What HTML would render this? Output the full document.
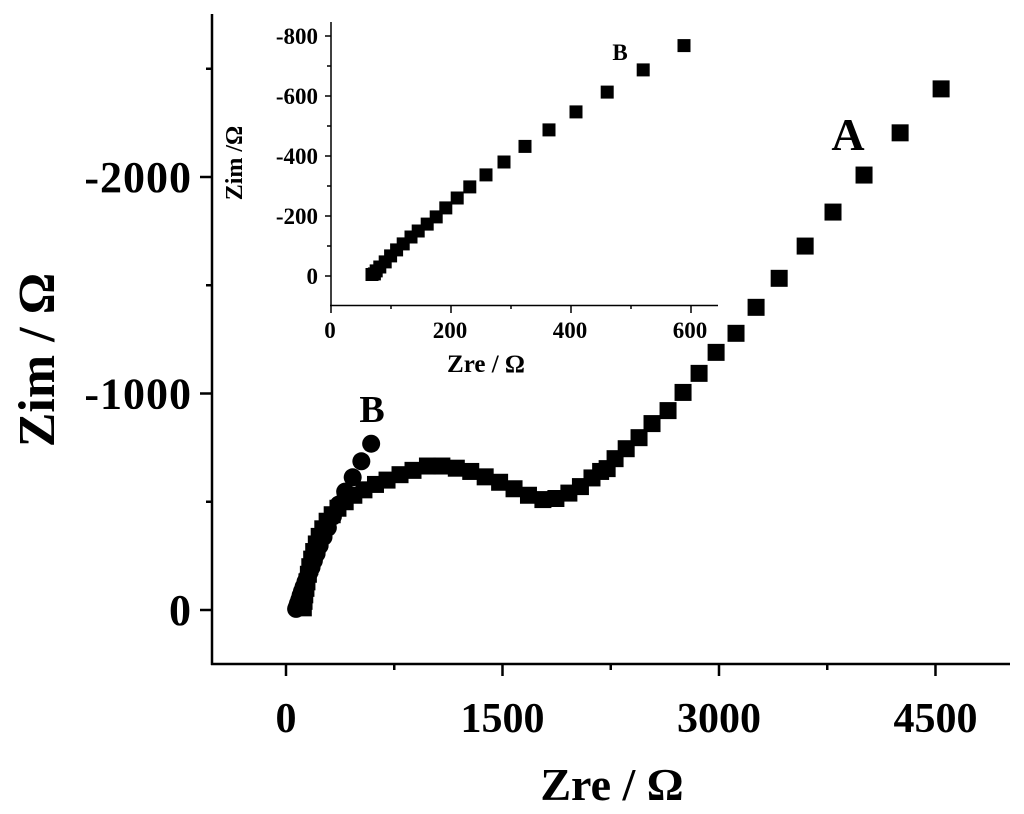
<!DOCTYPE html>
<html><head><meta charset="utf-8"><style>
html,body{margin:0;padding:0;background:#fff;}
svg{display:block;font-family:"Liberation Serif",serif;font-weight:bold;}
</style></head><body>
<svg id="chart" width="1024" height="814" viewBox="0 0 1024 814"></svg>
<script>
// Main chart data (Ω); Zim negative values plotted upward
const aZre = [120,125,130,138,145,155,165,178,192,210,230,255,285,320,360,410,470,540,620,700,790,880,980,1080,1180,1280,1380,1480,1580,1680,1780,1870,1960,2040,2120,2180,2225,2280,2357,2446,2536,2647,2751,2862,2980,3118,3257,3417,3597,3790,4005,4255,4539];
const aZim = [-10,-40,-70,-100,-130,-165,-200,-235,-270,-305,-340,-375,-410,-440,-470,-500,-530,-555,-580,-600,-625,-645,-665,-665,-655,-640,-615,-590,-560,-530,-510,-515,-540,-570,-610,-640,-653,-699,-745,-796,-861,-921,-1005,-1093,-1190,-1278,-1398,-1532,-1681,-1838,-2009,-2204,-2407];
const bZre = [70,74,77,83,92,101,111,122,135,147,162,177,193,212,233,260,290,325,365,410,462,522,590];
const bZim = [-5,-7,-17,-30,-47,-67,-87,-107,-130,-150,-173,-197,-227,-260,-297,-337,-380,-432,-487,-547,-613,-687,-768];
const mainXTicks = [0,1500,3000,4500];
const mainXMinor = [750,2250,3750];
const mainYTicks = [0,-1000,-2000];
const mainYMinor = [-500,-1500,-2500];
const inXTicks = [0,200,400,600];
const inXMinor = [100,300,500];
const inYTicks = [0,-200,-400,-600,-800];
const inYMinor = [-100,-300,-500,-700];

const NS="http://www.w3.org/2000/svg";
const svg=document.getElementById('chart');
function mk(tag,attrs,parent){const e=document.createElementNS(NS,tag);for(const k in attrs)e.setAttribute(k,attrs[k]);(parent||svg).appendChild(e);return e;}
function txt(s,attrs,parent){const e=mk('text',attrs,parent);e.textContent=s;return e;}

const mx=v=>286+v*0.14433;
const my=v=>610+v*0.2165;
const ix=v=>330+v*0.6;
const iy=v=>276+v*0.3;

const mAx=mk('g',{});


mk('line',{x1:212,y1:14,x2:212,y2:665,stroke:'#000','stroke-width':2.5},mAx);
mk('line',{x1:211,y1:664,x2:1010,y2:664,stroke:'#000','stroke-width':2.5},mAx);
mainXTicks.forEach(v=>{
  mk('line',{x1:mx(v),y1:664,x2:mx(v),y2:676,stroke:'#000','stroke-width':2.5},mAx);
  const t=txt(String(v),{x:mx(v),y:732,'font-size':42,'text-anchor':'middle'},mAx);
  
  
});
mainXMinor.forEach(v=>mk('line',{x1:mx(v),y1:664,x2:mx(v),y2:670,stroke:'#000','stroke-width':2.5},mAx));
mainYTicks.forEach(v=>{
  mk('line',{x1:200,y1:my(v),x2:212,y2:my(v),stroke:'#000','stroke-width':2.5},mAx);
  const t=txt(String(v),{x:192,y:my(v)+15,'font-size':44,'text-anchor':'end','letter-spacing':1},mAx);
  
  
});
mainYMinor.forEach(v=>mk('line',{x1:206,y1:my(v),x2:212,y2:my(v),stroke:'#000','stroke-width':2.5},mAx));
const xt=txt('Zre / Ω',{x:612,y:800,'font-size':46,'text-anchor':'middle'});


const yt=txt('Zim / Ω',{x:0,y:0,'font-size':52,'text-anchor':'middle',transform:'translate(54,360) rotate(-90)'});



const gA=mk('g',{});


aZre.forEach((v,i)=>{
  const s=mk('rect',{x:mx(v)-8.5,y:my(aZim[i])-8.5,width:17,height:17,fill:'#000'},gA);
  
  
});
const gB=mk('g',{});


bZre.forEach((v,i)=>{
  const c=mk('circle',{cx:mx(v),cy:my(bZim[i]),r:9,fill:'#000'},gB);
  
  
});
const la=txt('A',{x:848,y:150,'font-size':46,'text-anchor':'middle'});


const lb=txt('B',{x:372,y:422,'font-size':38,'text-anchor':'middle'});



const gI=mk('g',{});


mk('line',{x1:331,y1:22,x2:331,y2:306,stroke:'#000','stroke-width':1.5},gI);
mk('line',{x1:330,y1:305.5,x2:718,y2:305.5,stroke:'#000','stroke-width':1.5},gI);
inXTicks.forEach(v=>{
  mk('line',{x1:ix(v)+1,y1:305,x2:ix(v)+1,y2:313,stroke:'#000','stroke-width':1.5},gI);
  const t=txt(String(v),{x:ix(v),y:338,'font-size':23,'text-anchor':'middle'},gI);
  
  
});
inXMinor.forEach(v=>mk('line',{x1:ix(v)+1,y1:305,x2:ix(v)+1,y2:309,stroke:'#000','stroke-width':1.5},gI));
inYTicks.forEach(v=>{
  mk('line',{x1:325,y1:iy(v),x2:331,y2:iy(v),stroke:'#000','stroke-width':1.5},gI);
  const t=txt(String(v),{x:318,y:iy(v)+8,'font-size':23,'text-anchor':'end'},gI);
  
  
});
inYMinor.forEach(v=>mk('line',{x1:327,y1:iy(v),x2:331,y2:iy(v),stroke:'#000','stroke-width':1.5},gI));
const ixt=txt('Zre / Ω',{x:486,y:372,'font-size':25,'text-anchor':'middle'},gI);


const iyt=txt('Zim /Ω',{x:0,y:0,'font-size':24,'text-anchor':'middle',transform:'translate(242,163) rotate(-90)'},gI);


bZre.forEach((v,i)=>{
  const s=mk('rect',{x:ix(v)-6.5,y:iy(bZim[i])-6.5,width:13,height:13,fill:'#000'},gI);
  
  
});
const ilb=txt('B',{x:620,y:60,'font-size':23,'text-anchor':'middle'},gI);


</script>
</body></html>
